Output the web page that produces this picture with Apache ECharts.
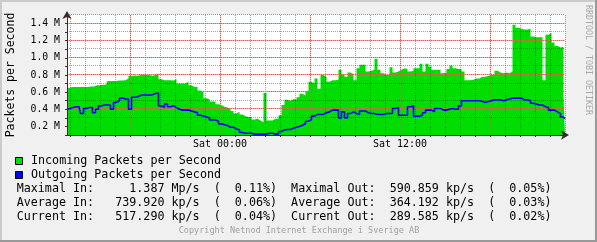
<!DOCTYPE html>
<html><head><meta charset="utf-8">
<script src="https://cdn.jsdelivr.net/npm/echarts@6/dist/echarts.min.js"></script>
<style>html,body{margin:0;padding:0;background:#f0f0f0;overflow:hidden}#c{width:597px;height:242px}</style>
</head><body><div id="c"></div><script>
// time of first sample, in hours relative to Sat 00:00, and sample spacing
const startHour = -10.2;
const stepHours = 0.2;

// Incoming packets per second (millions)
const incoming = [
  0.64,0.655,0.66,0.66,0.66,0.66,0.66,0.66,0.665,0.665,
  0.68,0.68,0.685,0.685,0.73,0.73,0.73,0.735,0.735,0.74,
  0.76,0.79,0.795,0.79,0.80,0.805,0.80,0.80,0.79,0.80,
  0.82,0.75,0.74,0.74,0.74,0.735,0.75,0.70,0.70,0.70,
  0.72,
  0.68,0.66,0.66,0.62,0.60,0.53,0.52,0.49,0.49,0.46,
  0.45,0.43,0.42,0.41,0.38,0.35,0.37,0.34,0.32,0.31,
  0.31,0.28,0.29,0.27,0.25,0.59,0.27,0.27,0.29,0.29,
  0.33,0.45,0.51,0.50,0.52,0.51,0.54,0.58,0.56,0.61,
  0.72,
  0.70,0.76,0.64,0.80,0.78,0.72,0.74,0.74,0.745,0.86,
  0.81,0.78,0.83,0.81,0.74,0.88,0.92,0.92,0.84,0.85,
  0.86,0.99,0.86,0.82,0.80,0.80,0.89,0.83,0.84,0.86,
  0.88,0.87,0.84,0.85,0.88,0.88,0.93,0.84,0.93,0.90,
  0.86,0.86,
  0.86,0.82,0.83,0.87,0.91,0.88,0.87,0.87,0.84,0.74,
  0.74,0.745,0.76,0.76,0.78,0.78,0.79,0.80,0.80,0.85,
  0.83,0.82,0.83,0.82,0.84,1.387,1.35,1.34,1.33,1.33,
  1.34,1.25,1.24,1.24,1.24,0.74,1.27,1.29,1.18,1.14,
  1.12,1.13,0.55
];

// Outgoing packets per second (millions)
const outgoing = [
  0.40,0.41,0.42,0.43,0.43,0.35,0.41,0.42,0.42,0.36,
  0.40,0.44,0.45,0.45,0.45,0.40,0.48,0.50,0.53,0.52,
  0.52,0.40,0.54,0.545,0.56,0.57,0.565,0.565,0.57,0.585,
  0.59,0.44,0.42,0.46,0.43,0.44,0.42,0.40,0.39,0.39,
  0.39,
  0.38,0.37,0.36,0.33,0.32,0.31,0.30,0.275,0.275,0.26,
  0.23,0.22,0.21,0.19,0.19,0.17,0.16,0.13,0.12,0.12,
  0.12,0.11,0.11,0.11,0.11,0.11,0.12,0.12,0.11,0.11,
  0.14,0.16,0.165,0.165,0.18,0.19,0.20,0.215,0.23,0.26,
  0.28,
  0.32,0.34,0.34,0.34,0.36,0.37,0.39,0.39,0.39,0.30,
  0.37,0.30,0.35,0.37,0.35,0.34,0.38,0.38,0.36,0.35,
  0.35,0.34,0.34,0.34,0.35,0.35,0.35,0.41,0.42,0.33,
  0.33,0.33,0.43,0.44,0.32,0.32,0.33,0.36,0.39,0.39,
  0.37,0.41,
  0.41,0.39,0.39,0.40,0.41,0.40,0.40,0.44,0.50,0.50,
  0.50,0.50,0.50,0.50,0.49,0.48,0.49,0.50,0.51,0.51,
  0.51,0.50,0.51,0.52,0.53,0.53,0.53,0.53,0.51,0.51,
  0.50,0.47,0.46,0.45,0.45,0.43,0.42,0.39,0.39,0.37,
  0.35,0.31,0.29
];

const xTickHours = [0, 12];
const xTickLabels = ['Sat 00:00', 'Sat 12:00'];
const xMajorHours = [-6, 0, 6, 12, 18];
const yMin = 0.1, yMax = 1.5, yStep = 0.1;
const yTickValues = [0.2, 0.4, 0.6, 0.8, 1.0, 1.2, 1.4];
const yMinorValues = [0.3, 0.5, 0.7, 0.9, 1.1, 1.3, 1.5];
const yTickLabels = ['0.2 M', '0.4 M', '0.6 M', '0.8 M', '1.0 M', '1.2 M', '1.4 M'];
const yTitle = 'Packets per Second';
const legendLabels = ['Incoming Packets per Second', 'Outgoing Packets per Second'];
const statRows = [
  'Maximal In:     1.387 Mp/s  (  0.11%)  Maximal Out:  590.859 kp/s  (  0.05%)',
  'Average In:   739.920 kp/s  (  0.06%)  Average Out:  364.192 kp/s  (  0.03%)',
  'Current In:   517.290 kp/s  (  0.04%)  Current Out:  289.585 kp/s  (  0.02%)'
];
const sideText = 'RRDTOOL / TOBI OETIKER';
const footer = 'Copyright Netnod Internet Exchange i Sverige AB';

const GREEN = '#00dd00', BLUE = '#0000ff';
const MONO = '"DejaVu Sans Mono", monospace';
const GRID_MINOR = 'rgba(0,0,0,0.36)';
const GRID_MAJOR = '#ff4a4a';
const GRID_MAJOR_TINT = 'rgba(255,90,90,0.4)';

const hours = incoming.map((_, i) => +(startHour + i * stepHours).toFixed(2));
const cats = hours.map(h => String(h));
const near = (a, b) => Math.abs(a - b) < 1e-6;
const isHour = h => near(h, Math.round(h));
const isMajorHour = h => xMajorHours.some(m => near(m, h));

const vMinor = [], vMajor = [];
hours.forEach((h, i) => {
  if (isMajorHour(h)) vMajor.push([i]);
  else if (isHour(h)) vMinor.push([i]);
});

const chart = echarts.init(document.getElementById('c'), null, { renderer: 'canvas' });

const legendY = [161, 175];
const statY = [189.3, 202.7, 216.7];
const graphics = [
  { type: 'rect', shape: { x: 0, y: 0, width: 597, height: 2 }, style: { fill: '#cbcbcb' }, silent: true },
  { type: 'rect', shape: { x: 0, y: 0, width: 2, height: 242 }, style: { fill: '#cbcbcb' }, silent: true },
  { type: 'rect', shape: { x: 595, y: 0, width: 2, height: 242 }, style: { fill: '#999999' }, silent: true },
  { type: 'rect', shape: { x: 0, y: 240, width: 597, height: 2 }, style: { fill: '#999999' }, silent: true },
  { type: 'text', x: 11, y: 75, rotation: Math.PI / 2,
    style: { text: yTitle, font: '11.5px ' + MONO, fill: '#000', align: 'center', verticalAlign: 'middle' } },
  { type: 'text', x: 588, y: 60, rotation: -Math.PI / 2,
    style: { text: sideText, font: '8.3px ' + MONO, fill: '#a8a8a8', align: 'center', verticalAlign: 'middle' } },
  { type: 'text', x: 299, y: 230.5,
    style: { text: footer, font: '8.5px ' + MONO, fill: '#a0a0a0', align: 'center', verticalAlign: 'middle' } }
];
[GREEN, BLUE].forEach((c, i) => {
  graphics.push({ type: 'rect', shape: { x: 15.5, y: legendY[i] - 3.5, width: 7, height: 7 },
    style: { fill: c, stroke: '#000', lineWidth: 1 } });
  graphics.push({ type: 'text', x: 31, y: legendY[i],
    style: { text: legendLabels[i], font: '11.7px ' + MONO, fill: '#000', align: 'left', verticalAlign: 'middle' } });
});
statRows.forEach((t, i) => {
  graphics.push({ type: 'text', x: 16.7, y: statY[i],
    style: { text: t, font: '11.7px ' + MONO, fill: '#000', align: 'left', verticalAlign: 'middle' } });
});

const snap = p => Math.round(p) + 0.5;
function vGridSeries(name, data, color, dash) {
  return { name, type: 'custom', data, z: 3, silent: true, clip: false, encode: { x: 0 },
    renderItem: (params, api) => {
      const cs = params.coordSys;
      const x = snap(api.coord([api.value(0), yMin])[0]);
      return { type: 'line', silent: true, shape: { x1: x, y1: cs.y, x2: x, y2: cs.y + cs.height },
        style: { stroke: color, lineWidth: 1, lineDash: dash, fill: null } };
    } };
}
function hGridSeries(name, values, color, dash) {
  return { name, type: 'custom', data: values.map(v => [0, v]), z: 3, silent: true, clip: false, encode: { y: 1 },
    renderItem: (params, api) => {
      const cs = params.coordSys;
      const y = snap(api.coord([0, api.value(1)])[1]) - 1;
      return { type: 'line', silent: true, shape: { x1: cs.x, y1: y, x2: cs.x + cs.width, y2: y },
        style: { stroke: color, lineWidth: 1, lineDash: dash, fill: null } };
    } };
}

chart.setOption({
  animation: false,
  backgroundColor: '#f0f0f0',
  grid: { left: 67, right: 32, top: 15, bottom: 107, containLabel: false, outerBoundsMode: 'none',
          show: true, backgroundColor: '#ffffff', borderWidth: 0 },
  xAxis: {
    type: 'category', data: cats, boundaryGap: false, z: 6,
    axisLine: { show: true, lineStyle: { color: '#3a2a2a', width: 1 }, symbol: ['none', 'arrow'],
                symbolSize: [7, 8], symbolOffset: [0, 4] },
    axisTick: { show: true, length: 2, interval: idx => isHour(hours[idx]), lineStyle: { color: '#333' } },
    axisLabel: {
      interval: idx => xTickHours.some(h => near(h, hours[idx])),
      formatter: (v, idx) => {
        const k = xTickHours.findIndex(h => near(h, hours[idx]));
        return k >= 0 ? xTickLabels[k] : '';
      },
      fontFamily: MONO, fontSize: 10, color: '#000', margin: 4
    },
    splitLine: { show: false }
  },
  yAxis: {
    type: 'value', min: yMin, max: yMax, interval: yStep, z: 6,
    axisLine: { show: true, lineStyle: { color: '#3a2a2a', width: 1 }, symbol: ['none', 'arrow'],
                symbolSize: [7, 8], symbolOffset: [0, 4] },
    axisTick: { show: true, length: 2, lineStyle: { color: '#333' } },
    axisLabel: {
      formatter: v => {
        const k = yTickValues.findIndex(t => near(t, v));
        return k >= 0 ? yTickLabels[k] : '';
      },
      fontFamily: MONO, fontSize: 9.8, color: '#000', margin: 7
    },
    splitLine: { show: false }
  },
  series: [
    { name: legendLabels[0], type: 'line', data: incoming, step: 'middle', symbol: 'none', z: 2,
      lineStyle: { width: 0 }, areaStyle: { color: GREEN, opacity: 1 } },
    vGridSeries('vMinor', vMinor, GRID_MINOR, [1, 1]),
    hGridSeries('hMinor', yMinorValues, GRID_MINOR, [1, 1]),
    vGridSeries('vMajorTint', vMajor, GRID_MAJOR_TINT, null),
    hGridSeries('hMajorTint', yTickValues, GRID_MAJOR_TINT, null),
    vGridSeries('vMajor', vMajor, GRID_MAJOR, [1, 1]),
    hGridSeries('hMajor', yTickValues, GRID_MAJOR, [1, 1]),
    { name: legendLabels[1], type: 'line', data: outgoing, step: 'middle', symbol: 'none', z: 4,
      lineStyle: { width: 1.6, color: BLUE } }
  ],
  graphic: graphics
});
</script></body></html>
